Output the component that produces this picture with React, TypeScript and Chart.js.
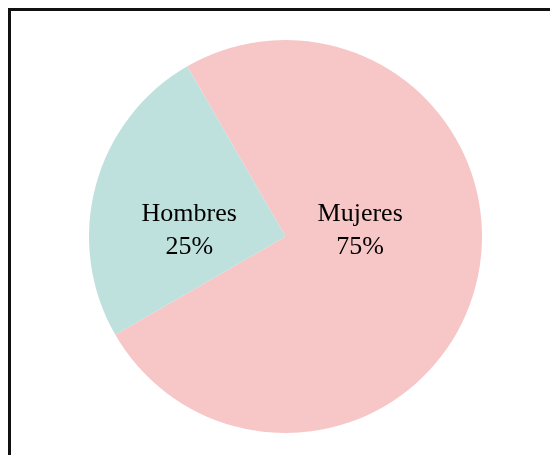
import React, { useEffect, useRef } from "react";
import { Chart, registerables } from "chart.js";

Chart.register(...registerables);

const categories = ["Mujeres", "Hombres"];
const values = [75, 25];
const sliceColors = ["#F7C6C7", "#BFE1DD"];

const labelPlugin = {
  id: "sliceLabels",
  afterDatasetsDraw(chart: any) {
    const ctx = chart.ctx;
    const meta = chart.getDatasetMeta(0);
    const total = values.reduce((a, b) => a + b, 0);
    ctx.save();
    ctx.fillStyle = "#000";
    ctx.font = '26px "Liberation Serif", "Times New Roman", serif';
    ctx.textAlign = "center";
    ctx.textBaseline = "middle";
    meta.data.forEach((arc: any, i: number) => {
      const { x, y, outerRadius } = arc.getProps(["x", "y", "outerRadius"], true);
      // label anchors (relative to radius)
      const anchors = [
        { dx: 0.38, dy: -0.03 },
        { dx: -0.49, dy: -0.03 },
      ];
      const a = anchors[i];
      const cx = x + a.dx * outerRadius;
      const cy = y + a.dy * outerRadius;
      const pct = Math.round((values[i] / total) * 100) + "%";
      ctx.fillText(categories[i], cx, cy - 16);
      ctx.fillText(pct, cx, cy + 17);
    });
    ctx.restore();
  },
};

export default function App() {
  const ref = useRef<HTMLCanvasElement | null>(null);
  useEffect(() => {
    document.documentElement.style.overflow = "hidden";
    document.body.style.margin = "8px 0 0 8px";
    if (!ref.current) return;
    const chart = new Chart(ref.current, {
      type: "pie",
      data: {
        labels: categories,
        datasets: [
          {
            data: values,
            backgroundColor: sliceColors,
            borderWidth: 0,
          },
        ],
      },
      options: {
        animation: false,
        responsive: false,
        rotation: -30,
        plugins: {
          legend: { display: false },
          tooltip: { enabled: false },
        },
        layout: { padding: 0 },
      },
      plugins: [labelPlugin],
    });
    return () => chart.destroy();
  }, []);
  return (
    <div
      style={{
        borderTop: "3px solid #111",
        borderLeft: "3px solid #111",
        height: 444,
        boxSizing: "content-box",
        position: "relative",
      }}
    >
      <canvas
        ref={ref}
        width={393}
        height={393}
        style={{ position: "absolute", left: 78, top: 29, width: 393, height: 393 }}
      />
    </div>
  );
}
